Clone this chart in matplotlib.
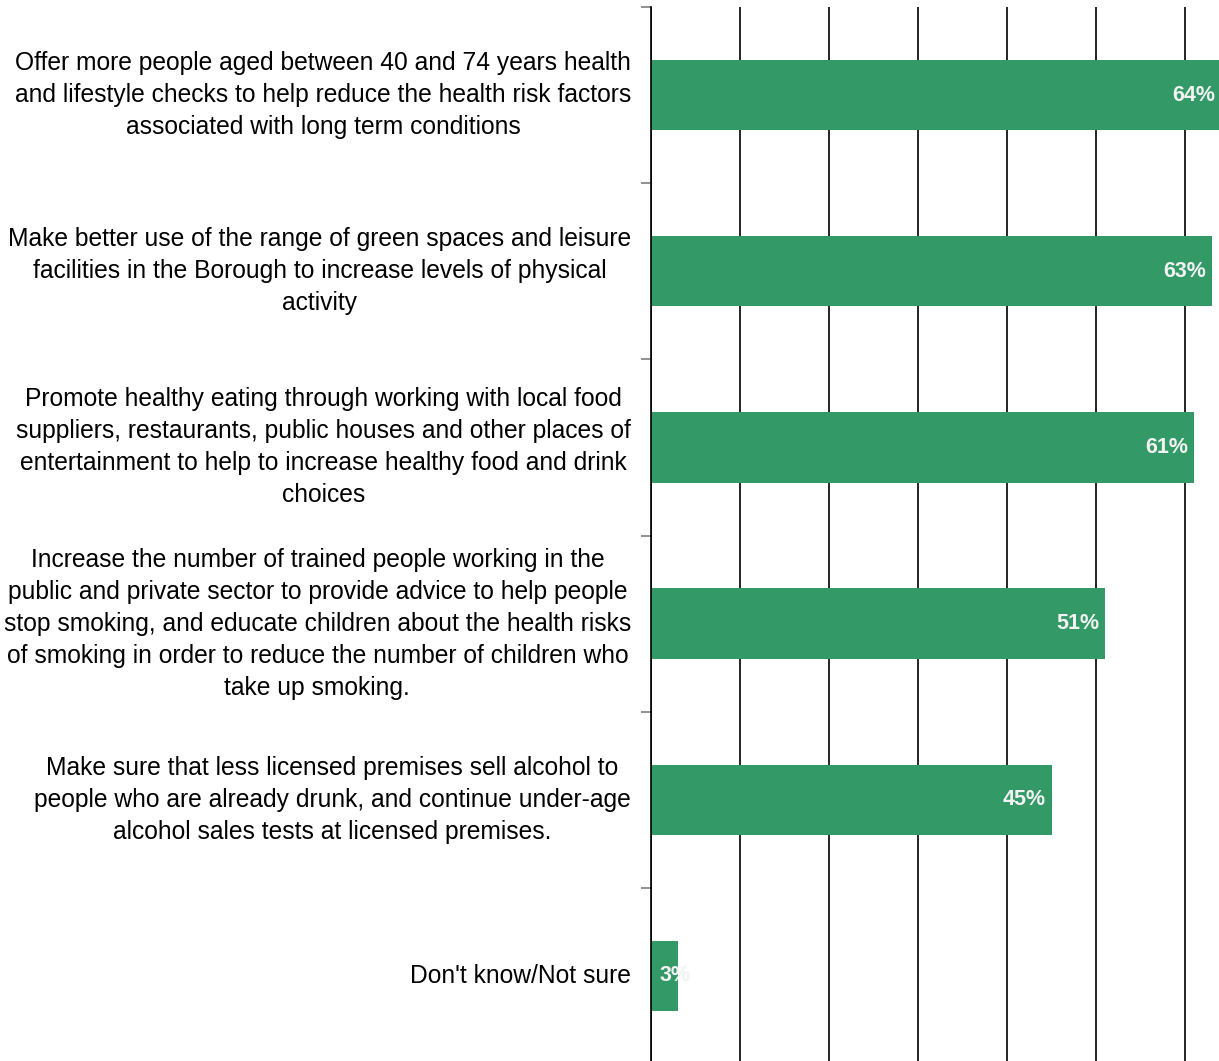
import matplotlib
matplotlib.use("Agg")
import matplotlib.pyplot as plt
import numpy as np

plt.rcParams['font.family'] = ['Liberation Sans', 'DejaVu Sans']

categories = [
    "Offer more people aged between 40 and 74 years health\nand lifestyle checks to help reduce the health risk factors\nassociated with long term conditions",
    "Make better use of the range of green spaces and leisure\nfacilities in the Borough to increase levels of physical\nactivity",
    "Promote healthy eating through working with local food\nsuppliers, restaurants, public houses and other places of\nentertainment to help to increase healthy food and drink\nchoices",
    "Increase the number of trained people working in the\npublic and private sector to provide advice to help people\nstop smoking, and educate children about the health risks\nof smoking in order to reduce the number of children who\ntake up smoking.",
    "Make sure that less licensed premises sell alcohol to\npeople who are already drunk, and continue under-age\nalcohol sales tests at licensed premises.",
    "Don't know/Not sure",
]
values = [64, 63, 61, 51, 45, 3]
value_labels = ["64%", "63%", "61%", "51%", "45%", "3%"]

W, H = 1219, 1061
fig = plt.figure(figsize=(W / 100, H / 100), dpi=100)
# plot area runs from 7 px below the top edge to just past the bottom edge
ax = fig.add_axes([651 / W, -3 / H, (W - 651) / W, (1064 - 7) / H])

y = np.arange(len(categories))
ax.barh(y, values, height=0.4, color='#339966', zorder=3, clip_on=False)

ax.set_xlim(0, 63.8)
ax.set_ylim(len(categories) - 0.5, -0.5)

ax.set_xticks(np.arange(0, 70, 10))
ax.xaxis.grid(True, color='black', linewidth=1.2, zorder=0)
ax.tick_params(axis='x', length=0, labelbottom=False)

ax.set_yticks(y)
ax.set_yticklabels(categories, fontsize=17.75, ha='right', va='center',
                   multialignment='center', linespacing=1.42)
ax.tick_params(axis='y', which='major', length=0, pad=14.4)
ax.set_yticks(np.arange(-0.5, len(categories), 1), minor=True)
ax.tick_params(axis='y', which='minor', length=7, width=1.3, color='#888888')

for s in ['top', 'right', 'bottom']:
    ax.spines[s].set_visible(False)
ax.spines['left'].set_linewidth(1.2)
ax.spines['left'].set_zorder(4)

for yi, v, lab in zip(y, values, value_labels):
    if v >= 10:
        ax.annotate(lab, (v, yi), xytext=(-4, 0), textcoords='offset points',
                    ha='right', va='center', color='#f2f2f2', fontsize=15.5,
                    fontweight='bold', zorder=5, annotation_clip=False)
    else:
        ax.annotate(lab, (0, yi), xytext=(6.5, 0), textcoords='offset points',
                    ha='left', va='center', color='#f2f2f2', fontsize=15.5,
                    fontweight='bold', zorder=5, annotation_clip=False)

fig.savefig('out.png', dpi=100)
